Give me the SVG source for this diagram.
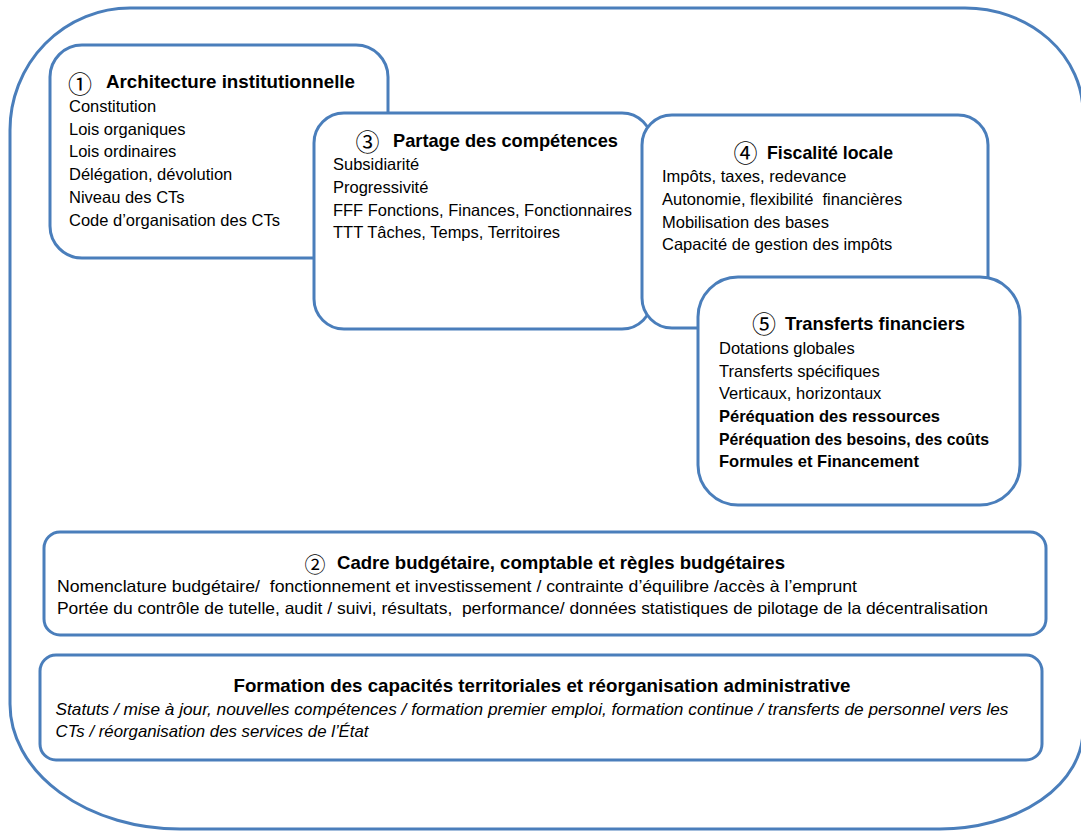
<svg xmlns="http://www.w3.org/2000/svg" width="1081" height="832" viewBox="0 0 1081 832">
<style>
.box{fill:#ffffff;stroke:#4a7ebb;stroke-width:3}
.t{font-family:"Liberation Sans",Arial,sans-serif;font-size:16.5px;fill:#000;white-space:pre}
.b{font-weight:bold}
.h{font-family:"Liberation Sans",Arial,sans-serif;font-size:18.5px;font-weight:bold;fill:#000}
.i{font-style:italic}
.n{font-family:"Noto Sans CJK JP","DejaVu Sans",sans-serif;font-size:24px;fill:#000;text-anchor:middle;dominant-baseline:central}
</style>
<rect width="1081" height="832" fill="#ffffff"/>
<g id="outer">
<path class="box" d="M130,8 H965 A118 105 0 0 1 1083,113 V730 A143 99 0 0 1 940,829 H180 A170 125 0 0 1 10,704 V130 A120 122 0 0 1 130,8 Z"/>
</g>
<g id="connectors"></g>
<g id="node1">
<rect class="box" x="50" y="45" width="338" height="213" rx="32" ry="32"/>
<text class="n" x="80" y="82">①</text>
<text class="h" x="106" y="87.5" textLength="249" lengthAdjust="spacingAndGlyphs">Architecture institutionnelle</text>
<text class="t" x="69" y="111.7">Constitution</text>
<text class="t" x="69" y="134.5">Lois organiques</text>
<text class="t" x="69" y="157.3">Lois ordinaires</text>
<text class="t" x="69" y="180">Délégation, dévolution</text>
<text class="t" x="69" y="202.8">Niveau des CTs</text>
<text class="t" x="69" y="225.6">Code d’organisation des CTs</text>
</g>
<g id="node3">
<rect class="box" x="314" y="113" width="338" height="216" rx="30" ry="30"/>
<text class="n" x="367.5" y="140">③</text>
<text class="h" x="393" y="147" textLength="225" lengthAdjust="spacingAndGlyphs">Partage des compétences</text>
<text class="t" x="333" y="170">Subsidiarité</text>
<text class="t" x="333" y="193">Progressivité</text>
<text class="t" x="333" y="216" textLength="299" lengthAdjust="spacingAndGlyphs">FFF Fonctions, Finances, Fonctionnaires</text>
<text class="t" x="333" y="238">TTT Tâches, Temps, Territoires</text>
</g>
<g id="node4">
<rect class="box" x="642" y="115" width="346" height="213" rx="30" ry="30"/>
<text class="n" x="745.5" y="151.5">④</text>
<text class="h" x="767" y="159" textLength="126" lengthAdjust="spacingAndGlyphs">Fiscalité locale</text>
<text class="t" x="662" y="182">Impôts, taxes, redevance</text>
<text class="t" x="662" y="205">Autonomie, flexibilité  financières</text>
<text class="t" x="662" y="228">Mobilisation des bases</text>
<text class="t" x="662" y="250">Capacité de gestion des impôts</text>
</g>
<g id="node5">
<rect class="box" x="698" y="277" width="322" height="228" rx="40" ry="40"/>
<text class="n" x="764" y="322.5">⑤</text>
<text class="h" x="785" y="330" textLength="180" lengthAdjust="spacingAndGlyphs">Transferts financiers</text>
<text class="t" x="719" y="354">Dotations globales</text>
<text class="t" x="719" y="377">Transferts spécifiques</text>
<text class="t" x="719" y="399">Verticaux, horizontaux</text>
<text class="t b" x="719" y="422">Péréquation des ressources</text>
<text class="t b" x="719" y="445" textLength="270" lengthAdjust="spacingAndGlyphs">Péréquation des besoins, des coûts</text>
<text class="t b" x="719" y="467">Formules et Financement</text>
</g>
<g id="node2">
<rect class="box" x="44" y="532" width="1002" height="103" rx="16" ry="16"/>
<text class="n" x="315" y="562.5" style="font-size:21px">②</text>
<text class="h" x="337" y="569" textLength="448" lengthAdjust="spacingAndGlyphs">Cadre budgétaire, comptable et règles budgétaires</text>
<text class="t" x="57" y="592" textLength="800" lengthAdjust="spacingAndGlyphs">Nomenclature budgétaire/  fonctionnement et investissement / contrainte d’équilibre /accès à l’emprunt</text>
<text class="t" x="57" y="614" textLength="931" lengthAdjust="spacingAndGlyphs">Portée du contrôle de tutelle, audit / suivi, résultats,  performance/ données statistiques de pilotage de la décentralisation</text>
</g>
<g id="node6">
<rect class="box" x="40" y="655" width="1002" height="105" rx="16" ry="16"/>
<text class="h" x="233.5" y="692" textLength="617" lengthAdjust="spacingAndGlyphs">Formation des capacités territoriales et réorganisation administrative</text>
<text class="t i" x="55.5" y="715" textLength="953" lengthAdjust="spacingAndGlyphs">Statuts / mise à jour, nouvelles compétences / formation premier emploi, formation continue / transferts de personnel vers les</text>
<text class="t i" x="55.5" y="737" textLength="313" lengthAdjust="spacingAndGlyphs">CTs / réorganisation des services de l’État</text>
</g>
</svg>
